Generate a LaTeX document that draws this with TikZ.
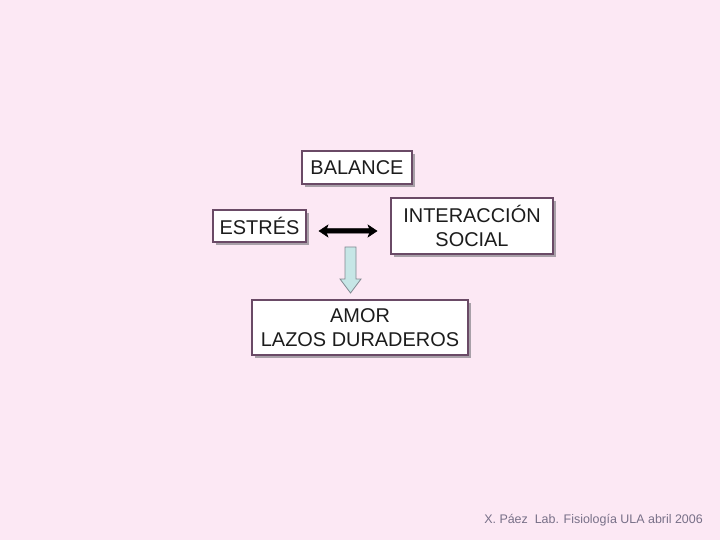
\documentclass[tikz,border=0pt]{standalone}
\usepackage{fontspec}
\setmainfont{Liberation Sans}
\usetikzlibrary{arrows.meta,shadows}
\definecolor{bgpink}{HTML}{FCE8F4}
\definecolor{boxborder}{HTML}{6A4A66}
\definecolor{shadowgray}{HTML}{A8A0A8}
\definecolor{arrowfill}{HTML}{C6E6E6}
\definecolor{arrowedge}{HTML}{808890}
\definecolor{footgray}{HTML}{787088}
\definecolor{txt}{HTML}{1C1C1C}
\tikzset{
  box/.style={draw=boxborder, line width=1.2bp, fill=white, text=txt,
    inner sep=0pt, align=center, font=\fontsize{20}{24}\selectfont,
    drop shadow={shadow xshift=3bp, shadow yshift=-3bp, fill=shadowgray, opacity=1}},
  dblarrow/.style={fill=black, draw=black, line width=0.5bp, line join=miter},
  blockarrow/.style={fill=arrowfill, draw=arrowedge, line width=0.8bp, line join=miter},
  foot/.style={text=footgray, font=\fontsize{12.5}{14}\selectfont, inner sep=0pt}
}
\begin{document}
\begin{tikzpicture}[x=1bp,y=-1bp]
\fill[bgpink] (0,0) rectangle (720,540);
\useasboundingbox (0,0) rectangle (720,540);
\node[box, minimum width=110bp, minimum height=33bp] (balance) at (357,167.5) {BALANCE};
\node[box, minimum width=93bp, minimum height=32bp] (estres) at (259.5,226) {ESTRÉS};
\node[box, minimum width=162bp, minimum height=56bp] (inter) at (472,226) {INTERACCIÓN\\SOCIAL};
\node[box, minimum width=216bp, minimum height=55bp] (amor) at (360,327.5) {AMOR\\LAZOS DURADEROS};
\coordinate (dl) at (319,231);
\coordinate (dr) at (377,231);
\draw[dblarrow] (dl) -- ++(9,-6) -- ++(-1.5,3.75) -- ++(43,0) -- ++(-1.5,-3.75) -- (dr)
  -- ++(-9,6) -- ++(1.5,-3.75) -- ++(-43,0) -- ++(1.5,3.75) -- cycle;
\coordinate (tip) at (350.5,293);
\draw[blockarrow] (345,247) -- (356,247) -- (356,279) -- (361,279) -- (tip) -- (340,279) -- (345,279) -- cycle;
\node[foot, anchor=base east] (footer) at (703,523) {X. Páez\ \ Lab. Fisiología ULA abril 2006};
\end{tikzpicture}
\end{document}
